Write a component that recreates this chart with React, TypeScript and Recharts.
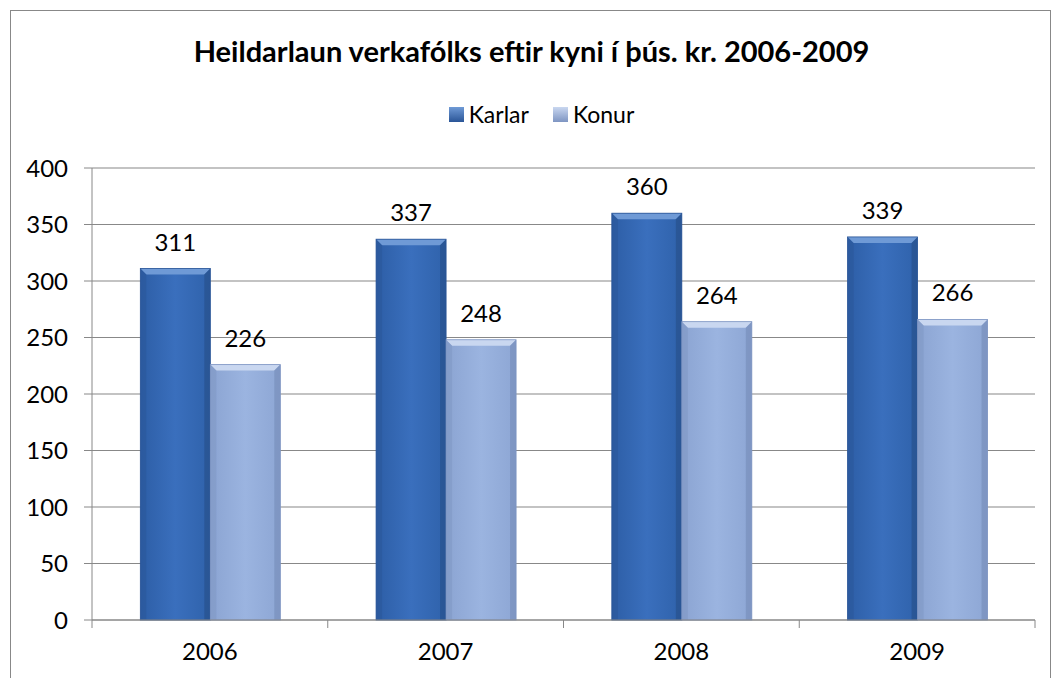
import { BarChart, Bar, XAxis, YAxis, CartesianGrid, LabelList } from "recharts"

const years = ["2006", "2007", "2008", "2009"]
const karlar = [311, 337, 360, 339]
const konur = [226, 248, 264, 266]
const yTicks = [0, 50, 100, 150, 200, 250, 300, 350, 400]

const data = years.map((y, i) => ({ year: y, Karlar: karlar[i], Konur: konur[i] }))

const FONT = "Lato, 'Open Sans', sans-serif"

// bevelled bar like the Excel preset
function BevelBar(props: any) {
  const { x, y, width, height, fill } = props
  if (!height || height <= 0) return null
  const b = 6
  const id = fill === "k" ? "gK" : "gW"
  const top = fill === "k" ? "#6f9ad6" : "#c9d7f0"
  const side = fill === "k" ? "#2a5597" : "#7e95c2"
  const right = fill === "k" ? "#24497f" : "#6f86b2"
  return (
    <g>
      <rect x={x} y={y} width={width} height={height} fill={`url(#${id})`} />
      <polygon points={`${x},${y} ${x + width},${y} ${x + width - b},${y + b} ${x + b},${y + b}`} fill={top} />
      <polygon points={`${x},${y} ${x + b},${y + b} ${x + b},${y + height} ${x},${y + height}`} fill={side} opacity={0.5} />
      <polygon points={`${x + width},${y} ${x + width - b},${y + b} ${x + width - b},${y + height} ${x + width},${y + height}`} fill={right} opacity={0.5} />
      <rect x={x} y={y} width={width} height={height} fill="none" stroke={side} strokeWidth={0.8} />
    </g>
  )
}

function YearTick(props: any) {
  const { x, y, payload } = props
  const half = payload?.offset ?? 0
  const last = payload?.index === years.length - 1
  return (
    <g>
      <line x1={x - half} y1={y - 8} x2={x - half} y2={y} stroke="#888" />
      {last && <line x1={x + half} y1={y - 8} x2={x + half} y2={y} stroke="#888" />}
      <text x={x} y={y + 32} textAnchor="middle" fontSize={24} fill="#000" fontFamily={FONT}>
        {payload.value}
      </text>
    </g>
  )
}

export default function App() {
  return (
    <div style={{ position: "absolute", left: 0, top: 0, width: 1063, height: 678, background: "#fff", fontFamily: FONT }}>
      <div
        style={{
          position: "absolute",
          left: 10,
          top: 10,
          width: 1041,
          height: 700,
          border: "1.5px solid #888",
          boxSizing: "border-box",
        }}
      />
      <div style={{ position: "absolute", left: 0, top: 33, width: 1063, textAlign: "center", fontSize: 29, fontWeight: 700 }}>
        Heildarlaun verkafólks eftir kyni í þús. kr. 2006-2009
      </div>
      <div style={{ position: "absolute", left: 10, top: 100, width: 1063, display: "flex", justifyContent: "center", fontSize: 23, alignItems: "center" }}>
        <span style={{ display: "inline-block", width: 15, height: 15, background: "linear-gradient(#6f9ad6, #2a5597)", marginRight: 5 }} />
        <span style={{ marginRight: 24 }}>Karlar</span>
        <span style={{ display: "inline-block", width: 15, height: 15, background: "linear-gradient(#c9d7f0, #7e95c2)", marginRight: 5 }} />
        <span>Konur</span>
      </div>
      <div style={{ position: "absolute", left: 0, top: 0 }}>
        <BarChart
          width={1063}
          height={678}
          data={data}
          margin={{ top: 168, right: 28, bottom: 0, left: 0 }}
          barGap={0}
          barCategoryGap="20.5%"
        >
          <defs>
            <linearGradient id="gK" x1="0" y1="0" x2="1" y2="0">
              <stop offset="0" stopColor="#2d5ea6" />
              <stop offset="0.5" stopColor="#3a6fbd" />
              <stop offset="1" stopColor="#2f62ab" />
            </linearGradient>
            <linearGradient id="gW" x1="0" y1="0" x2="1" y2="0">
              <stop offset="0" stopColor="#8ba4d2" />
              <stop offset="0.5" stopColor="#9bb4e0" />
              <stop offset="1" stopColor="#8da6d4" />
            </linearGradient>
          </defs>
          <CartesianGrid vertical={false} stroke="#888" strokeWidth={1.2} />
          <XAxis
            dataKey="year"
            stroke="#888"
            tickLine={false}
            tick={<YearTick />}
            interval={0}
            height={58}
          />
          <YAxis
            domain={[0, 400]}
            ticks={yTicks}
            width={92}
            stroke="#888"
            tickSize={8}
            tickMargin={16}
            tick={{ fontSize: 24, fill: "#000", fontFamily: FONT }}
          />
          <Bar dataKey="Karlar" fill="k" shape={<BevelBar />} isAnimationActive={false}>
            <LabelList dataKey="Karlar" position="top" offset={18} fontSize={24} fill="#000" fontFamily={FONT} />
          </Bar>
          <Bar dataKey="Konur" fill="w" shape={<BevelBar />} isAnimationActive={false}>
            <LabelList dataKey="Konur" position="top" offset={18} fontSize={24} fill="#000" fontFamily={FONT} />
          </Bar>
        </BarChart>
      </div>
    </div>
  )
}
